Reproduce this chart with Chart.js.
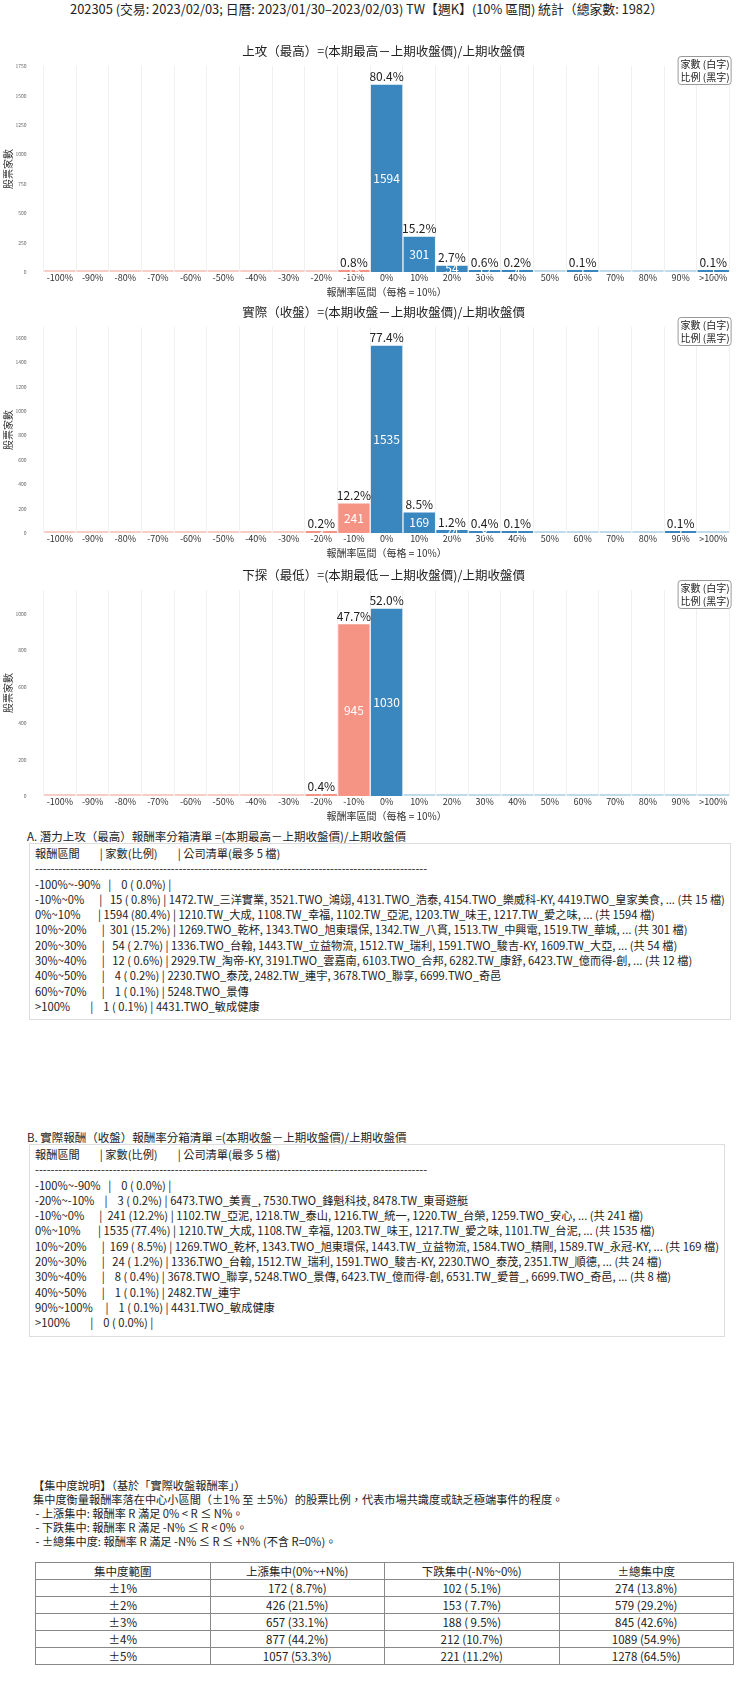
<!DOCTYPE html>
<html lang="zh-Hant">
<head>
<meta charset="utf-8">
<title>202305 週K 報酬率分箱統計</title>
<script src="https://cdn.jsdelivr.net/npm/chart.js@4.4.1/dist/chart.umd.min.js"></script>
<style>
  html, body { margin: 0; padding: 0; background: #fff; }
  body {
    position: relative;
    width: 740px;
    height: 1691px;
    overflow: hidden;
    font-family: "Noto Sans CJK TC", "Noto Sans", sans-serif;
    color: #222;
  }
  .main-title {
    position: absolute; top: 0; left: 70px;
    font-size: 12.85px; line-height: 18px; white-space: pre;
  }
  .chart-box { position: absolute; left: 0; width: 740px; height: 262px; }
  .sec-title { position: absolute; left: 27px; font-size: 11.5px; line-height: 16px; white-space: pre; }
  .list-box {
    position: absolute; left: 29px;
    display: inline-block;
    border: 1px solid #ddd;
    padding: 2px 5px 5px 5px;
    font-size: 11.2px; line-height: 15.3px;
    white-space: pre;
  }
  .note {
    position: absolute; left: 33px; top: 1478px;
    font-size: 11.2px; line-height: 14px; white-space: pre;
  }
  table.conc {
    position: absolute; left: 35px; top: 1562px; width: 699px;
    border-collapse: collapse; table-layout: fixed;
    font-size: 11.5px;
  }
  table.conc td {
    border: 1px solid #888; height: 16px; line-height: 16px;
    padding: 0; text-align: center; white-space: pre;
  }
</style>
</head>
<body>

<div class="main-title">202305 (交易: 2023/02/03; 日曆: 2023/01/30–2023/02/03) TW【週K】(10% 區間) 統計（總家數: 1982）</div>

<div class="chart-box" style="top:36px"><canvas id="highChart"></canvas></div>
<div class="chart-box" style="top:297px"><canvas id="closeChart"></canvas></div>
<div class="chart-box" style="top:560px"><canvas id="lowChart"></canvas></div>

<div class="sec-title" style="top:828px">A. 潛力上攻（最高）報酬率分箱清單 =(本期最高－上期收盤價)/上期收盤價</div>
<div class="list-box" id="listA" style="top:843px"></div>

<div class="sec-title" style="top:1129px">B. 實際報酬（收盤）報酬率分箱清單 =(本期收盤－上期收盤價)/上期收盤價</div>
<div class="list-box" id="listB" style="top:1144px"></div>

<div class="note">【集中度說明】（基於「實際收盤報酬率」）
集中度衡量報酬率落在中心小區間（±1% 至 ±5%）的股票比例，代表市場共識度或缺乏極端事件的程度。
 - 上漲集中: 報酬率 R 滿足 0% &lt; R ≤ N%。
 - 下跌集中: 報酬率 R 滿足 -N% ≤ R &lt; 0%。
 - ±總集中度: 報酬率 R 滿足 -N% ≤ R ≤ +N% (不含 R=0%)。</div>

<table class="conc" id="concTable"></table>

<script>
// 10% bins, label = lower edge of the bin
const binLabels = ['-100%', '-90%', '-80%', '-70%', '-60%', '-50%', '-40%', '-30%', '-20%', '-10%',
  '0%', '10%', '20%', '30%', '40%', '50%', '60%', '70%', '80%', '90%', '>100%'];

// stock counts per bin
const highCounts = [0, 0, 0, 0, 0, 0, 0, 0, 0, 15, 1594, 301, 54, 12, 4, 0, 1, 0, 0, 0, 1];
const closeCounts = [0, 0, 0, 0, 0, 0, 0, 0, 3, 241, 1535, 169, 24, 8, 1, 0, 0, 0, 0, 1, 0];
const lowCounts = [0, 0, 0, 0, 0, 0, 0, 0, 7, 945, 1030, 0, 0, 0, 0, 0, 0, 0, 0, 0, 0];

const highTitle = '上攻（最高）=(本期最高－上期收盤價)/上期收盤價';
const closeTitle = '實際（收盤）=(本期收盤－上期收盤價)/上期收盤價';
const lowTitle = '下探（最低）=(本期最低－上期收盤價)/上期收盤價';

// company lists (max 5 per bin)
const highNames = {
  '-10%~0%': '1472.TW_三洋實業, 3521.TWO_鴻翊, 4131.TWO_浩泰, 4154.TWO_樂威科-KY, 4419.TWO_皇家美食, ... (共 15 檔)',
  '0%~10%': '1210.TW_大成, 1108.TW_幸福, 1102.TW_亞泥, 1203.TW_味王, 1217.TW_愛之味, ... (共 1594 檔)',
  '10%~20%': '1269.TWO_乾杯, 1343.TWO_旭東環保, 1342.TW_八貫, 1513.TW_中興電, 1519.TW_華城, ... (共 301 檔)',
  '20%~30%': '1336.TWO_台翰, 1443.TW_立益物流, 1512.TW_瑞利, 1591.TWO_駿吉-KY, 1609.TW_大亞, ... (共 54 檔)',
  '30%~40%': '2929.TW_淘帝-KY, 3191.TWO_雲嘉南, 6103.TWO_合邦, 6282.TW_康舒, 6423.TW_億而得-創, ... (共 12 檔)',
  '40%~50%': '2230.TWO_泰茂, 2482.TW_連宇, 3678.TWO_聯享, 6699.TWO_奇邑',
  '60%~70%': '5248.TWO_景傳',
  '>100%': '4431.TWO_敏成健康'
};
const closeNames = {
  '-20%~-10%': '6473.TWO_美賣_, 7530.TWO_鋒魁科技, 8478.TW_東哥遊艇',
  '-10%~0%': '1102.TW_亞泥, 1218.TW_泰山, 1216.TW_統一, 1220.TW_台榮, 1259.TWO_安心, ... (共 241 檔)',
  '0%~10%': '1210.TW_大成, 1108.TW_幸福, 1203.TW_味王, 1217.TW_愛之味, 1101.TW_台泥, ... (共 1535 檔)',
  '10%~20%': '1269.TWO_乾杯, 1343.TWO_旭東環保, 1443.TW_立益物流, 1584.TWO_精剛, 1589.TW_永冠-KY, ... (共 169 檔)',
  '20%~30%': '1336.TWO_台翰, 1512.TW_瑞利, 1591.TWO_駿吉-KY, 2230.TWO_泰茂, 2351.TW_順德, ... (共 24 檔)',
  '30%~40%': '3678.TWO_聯享, 5248.TWO_景傳, 6423.TW_億而得-創, 6531.TW_愛普_, 6699.TWO_奇邑, ... (共 8 檔)',
  '40%~50%': '2482.TW_連宇',
  '90%~100%': '4431.TWO_敏成健康'
};

// concentration table
const concRanges = ['±1%', '±2%', '±3%', '±4%', '±5%'];
const concUp = [172, 426, 657, 877, 1057];
const concDown = [102, 153, 188, 212, 221];
const concTotal = [274, 579, 845, 1089, 1278];

const FONT = '"Noto Sans CJK TC", "Noto Sans", sans-serif';
Chart.defaults.font.family = FONT;
Chart.defaults.color = '#333';

function pct(n, total) {
  return (n / total * 100).toFixed(1);
}

function barColor(index, value) {
  const negative = index < 10;
  if (value === 0) {
    return negative ? '#f8cdc6' : '#bfdbec';
  }
  return negative ? '#f59385' : '#3a87c0';
}

// count (white, inside) and share (black, on top)
const barLabels = {
  id: 'barLabels',
  afterDatasetsDraw(chart) {
    const { ctx } = chart;
    const counts = chart.data.datasets[0].data;
    const total = counts.reduce((a, b) => a + b, 0);
    const meta = chart.getDatasetMeta(0);
    ctx.save();
    ctx.textAlign = 'center';
    ctx.textBaseline = 'middle';
    ctx.font = '12px ' + FONT;
    meta.data.forEach((bar, i) => {
      const n = counts[i];
      if (!n) return;
      ctx.fillStyle = '#ffffff';
      ctx.fillText(String(n), bar.x, (bar.y + bar.base) / 2);
      ctx.fillStyle = '#222';
      ctx.fillText(pct(n, total) + '%', bar.x, bar.y - 8);
    });
    ctx.restore();
  }
};

// panel title + small key box
const panelDecor = {
  id: 'panelDecor',
  afterDraw(chart, args, opts) {
    const { ctx, chartArea } = chart;
    ctx.save();
    ctx.textAlign = 'center';
    ctx.textBaseline = 'middle';
    ctx.fillStyle = '#222';
    ctx.font = '12.5px ' + FONT;
    ctx.fillText(opts.title, (chartArea.left + chartArea.right) / 2 - 3, chartArea.top - 15);

    const w = 54, h = 28;
    const x = chartArea.right + 2 - w + 0.5, y = chartArea.top - 10 + 0.5;
    ctx.beginPath();
    ctx.roundRect(x, y, w - 1, h, 3);
    ctx.fillStyle = '#fff';
    ctx.fill();
    ctx.strokeStyle = '#999';
    ctx.lineWidth = 1;
    ctx.stroke();
    ctx.fillStyle = '#222';
    ctx.font = '10px ' + FONT;
    ctx.fillText('家數 (白字)', x + w / 2, y + 7.5);
    ctx.fillText('比例 (黑字)', x + w / 2, y + 20.5);
    ctx.restore();
  }
};

function renderHistogram(canvasId, title, counts, yStep) {
  const canvas = document.getElementById(canvasId);
  const yMax = Math.max(...counts) * 1.1;

  return new Chart(canvas.getContext('2d'), {
    type: 'bar',
    data: {
      labels: binLabels,
      datasets: [
        {
          data: counts,
          backgroundColor: counts.map((v, i) => barColor(i, v)),
          borderWidth: 0,
          minBarLength: 2,
          barPercentage: 0.96,
          categoryPercentage: 1.0
        }
      ]
    },
    options: {
      responsive: true,
      maintainAspectRatio: false,
      animation: false,
      layout: { padding: { top: 30, right: 10.4, left: 0, bottom: 0 } },
      plugins: {
        legend: { display: false },
        tooltip: { enabled: false },
        panelDecor: { title }
      },
      scales: {
        x: {
          grid: { color: '#f0f0f0', drawTicks: false, offset: true },
          border: { display: false },
          ticks: { font: { size: 9 }, color: '#333', padding: 0, maxRotation: 0, autoSkip: false },
          title: { display: true, text: '報酬率區間（每格 = 10%）', font: { size: 10 }, color: '#333', padding: 0 },
          afterFit: (s) => { s.height = 26; }
        },
        y: {
          min: 0,
          max: yMax,
          grid: { display: false, drawTicks: false },
          border: { display: false },
          ticks: {
            font: { size: 5 },
            color: '#666',
            padding: 17,
            callback: (v) => String(v)
          },
          afterBuildTicks: (s) => {
            const ticks = [];
            for (let v = 0; v <= yMax; v += yStep) ticks.push({ value: v });
            s.ticks = ticks;
          },
          title: { display: true, text: '股票家數', font: { size: 10 }, color: '#333', padding: { top: 2, bottom: 0 } },
          afterFit: (s) => { s.width = 43.6; }
        }
      }
    },
    plugins: [barLabels, panelDecor]
  });
}

function binRange(i) {
  if (i === binLabels.length - 1) return '>100%';
  const lo = -100 + i * 10;
  return lo + '%~' + (lo + 10) + '%';
}

function renderList(elId, counts, names) {
  const total = counts.reduce((a, b) => a + b, 0);
  const lines = [
    '報酬區間        | 家數(比例)        | 公司清單(最多 5 檔)',
    '-'.repeat(101)
  ];
  counts.forEach((n, i) => {
    const first = i === 0;
    const last = i === counts.length - 1;
    if (!n && !first && !last) return;
    const range = binRange(i);
    const share = pct(n, total).padStart(4, ' ');
    const label = range.padEnd(13, ' ');
    lines.push(label + '| ' + String(n).padStart(4, ' ') + ' (' + share + '%) | ' + (names[range] || ''));
  });
  document.getElementById(elId).textContent = lines.join('\n');
}

function renderConcTable() {
  const total = highCounts.reduce((a, b) => a + b, 0);
  const cell = (n) => n + ' (' + pct(n, total).padStart(4, ' ') + '%)';
  const rows = [['集中度範圍', '上漲集中(0%~+N%)', '下跌集中(-N%~0%)', '±總集中度']];
  concRanges.forEach((r, i) => {
    rows.push([r, cell(concUp[i]), cell(concDown[i]), cell(concTotal[i])]);
  });
  const table = document.getElementById('concTable');
  rows.forEach((row) => {
    const tr = document.createElement('tr');
    row.forEach((text) => {
      const td = document.createElement('td');
      td.textContent = text;
      tr.appendChild(td);
    });
    table.appendChild(tr);
  });
}

renderHistogram('highChart', highTitle, highCounts, 250);
renderHistogram('closeChart', closeTitle, closeCounts, 200);
renderHistogram('lowChart', lowTitle, lowCounts, 200);
renderList('listA', highCounts, highNames);
renderList('listB', closeCounts, closeNames);
renderConcTable();
</script>
</body>
</html>
